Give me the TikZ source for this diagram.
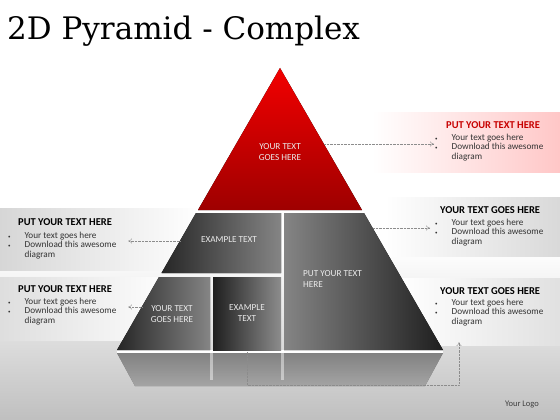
\documentclass[tikz,border=0pt]{standalone}
\usepackage{fontspec}
\setmainfont{Carlito}
\newfontfamily\titlefont{DejaVu Serif}
\usetikzlibrary{arrows.meta}
\newcommand{\blist}{\begin{tabular}{@{}l@{\hspace{14pt}}l@{}}
  \tiny\textbullet & Your text goes here\\[-1.8pt]
  \tiny\textbullet & Download this awesome\\[-1.8pt]
                   & diagram
  \end{tabular}}
\tikzset{
  piece/.style={draw=none},
  lbl/.style={text=black!8,font=\fontsize{9.2}{10.8}\selectfont,align=center,inner sep=0pt},
  head/.style={font=\fontsize{10.5}{12}\selectfont\bfseries,anchor=west,inner sep=0pt},
  bul/.style={font=\fontsize{9.2}{11.5}\selectfont,text=black!80,anchor=north west,inner sep=0pt},
  link/.style={draw=black!45,densely dotted,thin,-{To[length=4pt,width=5pt,open]}}
}
\begin{document}
\begin{tikzpicture}[x=1pt,y=-1pt]
    \useasboundingbox (0,0) rectangle (560,420);
    % background
    \fill[white] (0,0) rectangle (560,250);
    \fill[top color=white,bottom color=black!25] (0,250) rectangle (560,420);
    % text bands
    \fill[left color=white,right color=red!22] (372,112) rectangle (560,172);
    \fill[left color=white,right color=black!15] (385,197) rectangle (560,256);
    \fill[left color=white,right color=black!12] (400,278) rectangle (560,345);
    \fill[left color=black!16,right color=white] (0,208) rectangle (200,270);
    \fill[left color=black!13,right color=white] (0,277) rectangle (175,340);
    % reflection under the pyramid
    \fill[top color=black!38,bottom color=black!18,opacity=0.7] (117,353)--(443,353)--(425,386)--(135,386)--cycle;
    \fill[white] (117,350) rectangle (443,353);
    \fill[white,opacity=0.45] (210,353) rectangle (213,380);
    \fill[white,opacity=0.45] (281,353) rectangle (284,380);
    % pyramid
    \fill[top color=red!95!black,bottom color=red!62!black] (280,68)--(362,210)--(198,210)--cycle;
    \fill[piece,left color=black!85,right color=black!48] (196,213)--(281,213)--(281,273)--(161.5,273)--cycle;
    \fill[piece,left color=black!48,right color=black!88] (284,213)--(364,213)--(443,350)--(284,350)--cycle;
    \fill[piece,left color=black!85,right color=black!48] (159,277)--(210,277)--(210,350)--(117,350)--cycle;
    \fill[piece,left color=black!88,right color=black!45] (213,277)--(281,277)--(281,350)--(213,350)--cycle;
    \node[lbl] (top) at (280,152) {YOUR TEXT\\GOES HERE};
    \node[lbl] (midl) at (229,240) {EXAMPLE TEXT};
    \node[lbl,align=left,anchor=west] (midr) at (303,279) {PUT YOUR TEXT\\HERE};
    \node[lbl] (lowl) at (172,314) {YOUR TEXT\\GOES HERE};
    \node[lbl] (lowm) at (247,313) {EXAMPLE\\TEXT};
    % text blocks
    \node[head,text=red!78!black] (h1) at (446,125) {PUT YOUR TEXT HERE};
    \node[bul] (b1) at (435,132) {\blist};
    \node[head] (h2) at (440,210) {YOUR TEXT GOES HERE};
    \node[bul] (b2) at (435,217) {\blist};
    \node[head] (h3) at (440,291) {YOUR TEXT GOES HERE};
    \node[bul] (b3) at (435,297) {\blist};
    \node[head] (h4) at (18,222) {PUT YOUR TEXT HERE};
    \node[bul] (b4) at (8,230) {\blist};
    \node[head] (h5) at (18,289) {PUT YOUR TEXT HERE};
    \node[bul] (b5) at (8,296) {\blist};
    % connectors
    \coordinate (s1) at (324,144);
    \coordinate (e1) at (434,144);
    \coordinate (s2) at (373,228);
    \coordinate (e2) at (430,228);
    \coordinate (s4) at (180,241);
    \coordinate (e4) at (128,241);
    \coordinate (s5) at (142,307);
    \coordinate (e5) at (128,307);
    \coordinate (s3) at (247,352);
    \coordinate (c1) at (247,385);
    \coordinate (c2) at (459,385);
    \coordinate (e3) at (459,342);
    \draw[link] (s1) -- (e1);
    \draw[link] (s2) -- (e2);
    \draw[link] (s4) -- (e4);
    \draw[link] (s5) -- (e5);
    \draw[link] (s3) -- (c1) -- (c2) -- (e3);
    % title and logo
    \node[anchor=base west,inner sep=0pt,font=\titlefont\fontsize{31}{33}\selectfont] (title) at (7,40) {2D Pyramid - Complex};
    \node[font=\fontsize{8.5}{9}\selectfont,text=black!75] (logo) at (522,405) {Your Logo};
\end{tikzpicture}
\end{document}
